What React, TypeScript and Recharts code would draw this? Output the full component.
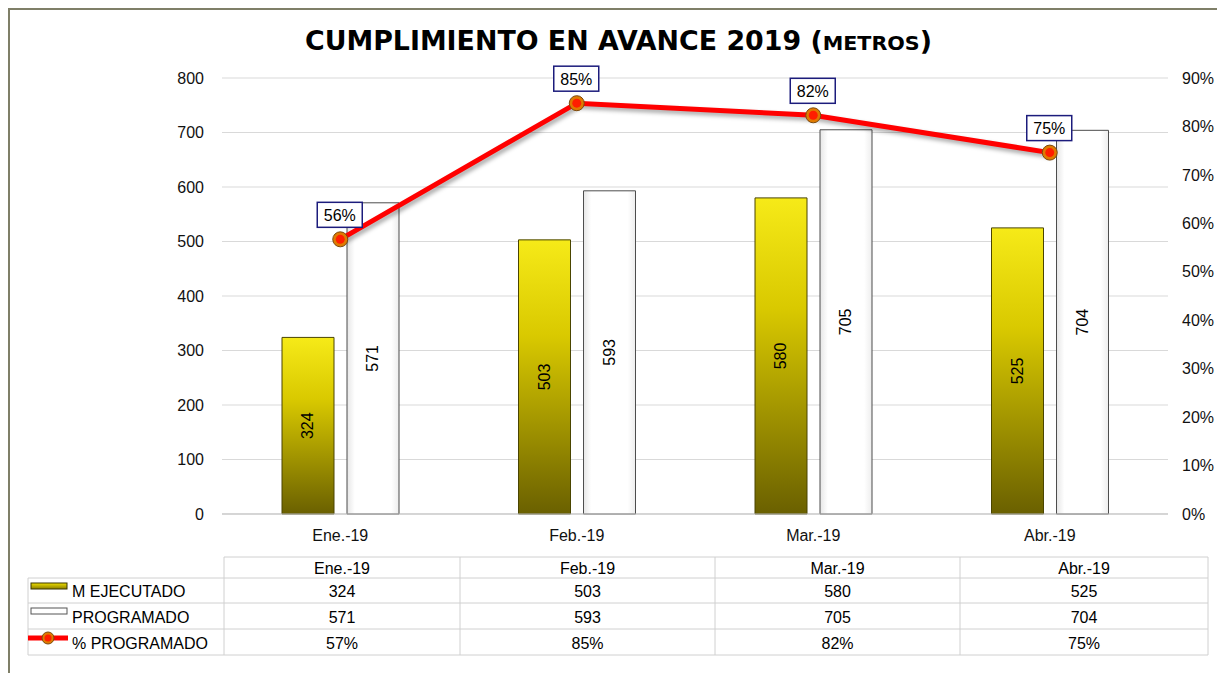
import React from 'react';
import { ComposedChart, Bar, Line, XAxis, YAxis, CartesianGrid, LabelList } from 'recharts';

const months = ['Ene.-19', 'Feb.-19', 'Mar.-19', 'Abr.-19'];
const ejecutado = [324, 503, 580, 525];
const programado = [571, 593, 705, 704];
const pctProgramado = [0.567, 0.848, 0.823, 0.746];
const pctPointLabels = ['56%', '85%', '82%', '75%'];
const pctTableLabels = ['57%', '85%', '82%', '75%'];
const leftTicks = [0, 100, 200, 300, 400, 500, 600, 700, 800];
const rightTicks = [0, 0.1, 0.2, 0.3, 0.4, 0.5, 0.6, 0.7, 0.8, 0.9];

const data = months.map((m, i) => ({
  month: m,
  ejecutado: ejecutado[i],
  programado: programado[i],
  pct: pctProgramado[i],
}));

const FONT = '"Liberation Sans", Arial, sans-serif';
const tickStyle = { fontFamily: FONT, fontSize: 16, fill: '#111' };

// rotated value inside each bar
const BarValue = (props: any) => {
  const { x, y, width, height, value } = props;
  const cx = x + width / 2;
  const cy = y + height / 2;
  return (
    <text x={cx} y={cy} transform={`rotate(-90, ${cx}, ${cy})`} textAnchor="middle"
      dominantBaseline="central" fontFamily={FONT} fontSize={16} fill="#000">
      {value}
    </text>
  );
};

const PctBox = (props: any) => {
  const { x, y, index } = props;
  return (
    <g>
      <rect x={x - 23} y={y - 37} width={45} height={25} fill="#fff" stroke="#1c1c7c" strokeWidth={1.5} />
      <text x={x - 0.5} y={y - 24} textAnchor="middle" dominantBaseline="central"
        fontFamily={FONT} fontSize={16} fill="#000">
        {pctPointLabels[index]}
      </text>
    </g>
  );
};

const PctDot = (props: any) => {
  const { cx, cy } = props;
  return (
    <g>
      <circle cx={cx} cy={cy} r={7.5} fill="#e07a00" stroke="#7a4a10" strokeWidth={1} />
      <circle cx={cx} cy={cy} r={4.5} fill="#ff1e00" />
    </g>
  );
};

// table columns / rows (wrapper coords)
const colX = [216, 452, 707, 952, 1200];
const rowY = [549, 570, 595, 621, 647];
const legendLeft = 20;

export default function App() {
  return (
    <div style={{ position: 'absolute', left: 8, top: 8, width: 1209, height: 665, background: '#fff', overflow: 'visible' }}>
      <style>{`html,body{margin:0;overflow:hidden} .recharts-line-curve{filter:drop-shadow(2px 3px 2px rgba(0,0,0,0.35));} .recharts-wrapper, .recharts-surface{overflow:visible !important}`}</style>
      <div style={{ position: 'absolute', left: 0, top: 0 }}>
        <ComposedChart width={1209} height={540} data={data}
          margin={{ top: 70, right: 0, bottom: 4, left: 0 }} barGap={13}>
          <defs>
            <linearGradient id="gradEjec" x1="0" y1="0" x2="0" y2="1">
              <stop offset="0%" stopColor="#f6ea18" />
              <stop offset="35%" stopColor="#d9c900" />
              <stop offset="100%" stopColor="#6a6000" />
            </linearGradient>
            <linearGradient id="gradProg" x1="0" y1="0" x2="1" y2="0">
              <stop offset="0%" stopColor="#e6e6e6" />
              <stop offset="15%" stopColor="#ffffff" />
              <stop offset="85%" stopColor="#ffffff" />
              <stop offset="100%" stopColor="#ededed" />
            </linearGradient>
          </defs>
          <CartesianGrid yAxisId="left" vertical={false} stroke="#d9d9d9" />
          <XAxis dataKey="month" tickLine={false} tickMargin={10} stroke="#bfbfbf" height={30}
            tick={tickStyle} />
          <YAxis yAxisId="left" domain={[0, 800]} ticks={leftTicks} width={214}
            axisLine={false} tickLine={false} tickMargin={12} tick={tickStyle} />
          <YAxis yAxisId="right" orientation="right" domain={[0, 0.9]} ticks={rightTicks} width={49}
            axisLine={false} tickLine={false} tickMargin={8} tick={tickStyle}
            tickFormatter={(v: number) => `${Math.round(v * 100)}%`} />
          <Bar yAxisId="left" dataKey="ejecutado" name="M EJECUTADO" barSize={52}
            fill="url(#gradEjec)" stroke="#4a4500" strokeWidth={1} isAnimationActive={false}>
            <LabelList dataKey="ejecutado" content={BarValue} />
          </Bar>
          <Bar yAxisId="left" dataKey="programado" name="PROGRAMADO" barSize={52}
            fill="url(#gradProg)" stroke="#4d4d4d" strokeWidth={1} isAnimationActive={false}>
            <LabelList dataKey="programado" content={BarValue} />
          </Bar>
          <Line yAxisId="right" type="linear" dataKey="pct" name="% PROGRAMADO" stroke="#ff0000"
            strokeWidth={5} dot={<PctDot />} activeDot={false} isAnimationActive={false}>
            <LabelList dataKey="pct" content={PctBox} />
          </Line>
        </ComposedChart>
      </div>

      <svg width={1209} height={665} style={{ position: 'absolute', left: 0, top: 0, pointerEvents: 'none' }}>
        {/* frame */}
        <line x1={1} y1={0} x2={1} y2={665} stroke="#7f7f68" strokeWidth={2} />
        <line x1={0} y1={1} x2={1209} y2={1} stroke="#7f7f68" strokeWidth={2} />

        {/* title */}
        <text x={297} y={42} textLength={627} lengthAdjust="spacingAndGlyphs"
          fontFamily='"DejaVu Sans", sans-serif' fontWeight="bold" fontSize={26} fill="#000">
          CUMPLIMIENTO EN AVANCE 2019 (<tspan fontSize={20}>METROS</tspan>)
        </text>

        {/* data table */}
        <g stroke="#d0d0d0" strokeWidth={1}>
          <line x1={colX[0]} y1={rowY[0]} x2={colX[4]} y2={rowY[0]} />
          {rowY.slice(1).map((y) => (
            <line key={y} x1={legendLeft} y1={y} x2={colX[4]} y2={y} />
          ))}
          {colX.map((x) => (
            <line key={x} x1={x} y1={rowY[0]} x2={x} y2={rowY[4]} />
          ))}
          <line x1={legendLeft} y1={rowY[1]} x2={legendLeft} y2={rowY[4]} />
        </g>
        {months.map((m, i) => {
          const cx = (colX[i] + colX[i + 1]) / 2;
          const rows = [m, String(ejecutado[i]), String(programado[i]), pctTableLabels[i]];
          return rows.map((t, r) => (
            <text key={`${i}-${r}`} x={cx} y={(rowY[r] + rowY[r + 1]) / 2 + 1} textAnchor="middle"
              dominantBaseline="central" fontFamily={FONT} fontSize={16} fill="#000">
              {t}
            </text>
          ));
        })}
        {/* legend keys */}
        <defs>
          <linearGradient id="gradEjecKey" x1="0" y1="0" x2="0" y2="1">
            <stop offset="0%" stopColor="#f0e000" />
            <stop offset="100%" stopColor="#8a7d00" />
          </linearGradient>
        </defs>
        <rect x={23} y={575} width={36} height={6} fill="url(#gradEjecKey)" stroke="#3a3600" />
        <rect x={23} y={600} width={36} height={6} fill="#fff" stroke="#555" />
        <line x1={20} y1={630} x2={60} y2={630} stroke="#ff0000" strokeWidth={5} />
        <circle cx={40} cy={630} r={6} fill="#e07a00" stroke="#7a4a10" strokeWidth={1} />
        <circle cx={40} cy={630} r={3.5} fill="#ff1e00" />
        {['M EJECUTADO', 'PROGRAMADO', '% PROGRAMADO'].map((t, r) => (
          <text key={t} x={64} y={(rowY[r + 1] + rowY[r + 2]) / 2 + 1} dominantBaseline="central"
            fontFamily={FONT} fontSize={16} fill="#000">
            {t}
          </text>
        ))}
      </svg>
    </div>
  );
}
